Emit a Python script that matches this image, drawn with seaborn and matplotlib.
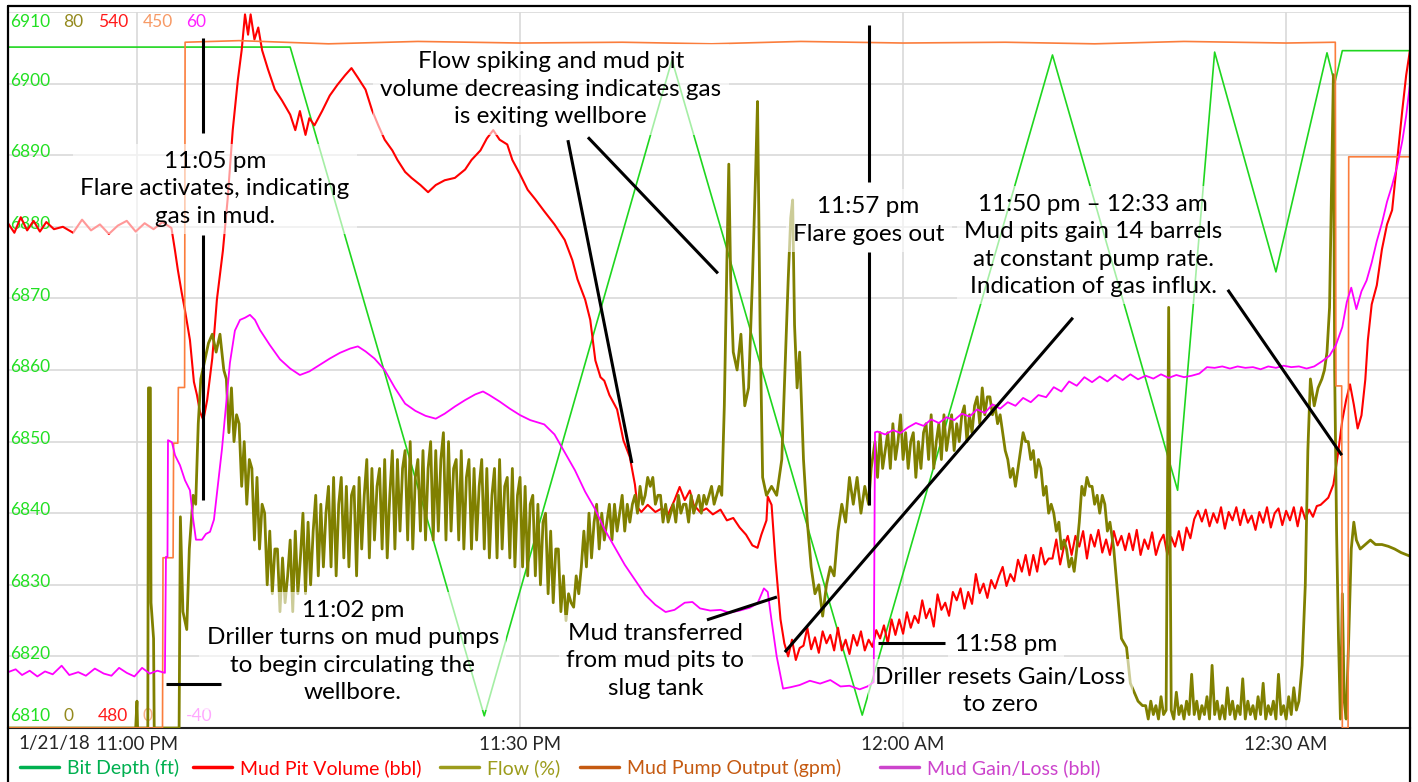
import numpy as np
import pandas as pd
import matplotlib.pyplot as plt
import seaborn as sns
from matplotlib.lines import Line2D

sns.set_style("white")
plt.rcParams['font.family'] = ['Lato', 'DejaVu Sans']

# ---- data (time in minutes after 11:00 PM, 1/21/18) ----
bit_t = [-10.1, 12.0, 27.2, 41.9, 56.8, 71.7, 81.5, 84.4, 89.2, 93.2, 93.8, 94.4, 99.7]
bit_v = [6905.1, 6905.1, 6811.7, 6903.3, 6811.8, 6904.0, 6843.2, 6904.4, 6873.7,
         6904.3, 6900.0, 6904.6, 6904.6]

pump_t = [-10.1, 2.0, 2.04, 2.83, 2.87, 3.2, 3.24, 3.73, 3.77, 8, 15, 22, 30, 38, 45,
          52, 60, 68, 75, 82, 90, 93.85, 93.9, 94.35, 94.4, 94.85, 94.9, 99.7]
pump_v = [0, 0, 107, 107, 179, 179, 214, 214, 431, 432, 430, 431.5, 430.5, 431, 430,
          431.5, 430.5, 431, 430, 431.5, 430.5, 431, 215, 215, 0, 0, 359, 359]

# mud pit volume: explicit points, then a noisy stretch every 0.3 min, then the final rise
pit_t_a = [-10.1, -9.6, -9.1, -8.6, -8.1, -7.6, -7.1, -6.5, -5.8, -5.0, -4.3, -3.6, -2.9,
           -2.2, -1.5, -0.8, -0.1, 0.6, 1.3, 2.0, 2.7,
           2.98, 3.2, 3.5, 3.76, 4.15, 4.46, 4.7, 4.93, 5.2, 5.5, 5.9, 6.26, 6.73, 7.1,
           7.5, 7.9, 8.2, 8.46, 8.7, 8.9, 9.2, 9.5, 9.8, 10.26, 10.8, 11.35, 12.0, 12.4,
           12.76, 13.2, 13.5, 13.9, 14.5, 15.1, 15.7, 16.3, 16.8, 17.3, 17.9, 18.4, 18.9,
           19.4, 20.0, 20.4, 21.0, 21.5, 22.2, 22.8, 23.4, 24.1, 24.9, 25.7, 26.2, 26.9,
           27.4, 27.9, 28.4, 29.0, 29.4, 30.0, 30.6, 31.2, 31.9, 32.7, 33.5, 34.1, 34.5,
           35.1, 35.5, 35.9, 36.3, 36.6, 37.0, 37.6, 38.1, 38.6, 39.0, 39.2, 39.5, 40.0,
           40.6, 41.1, 41.6, 42.1, 42.5, 42.9, 43.3, 43.6, 44.1, 44.6, 45.1, 45.7, 46.2,
           46.7, 47.2, 47.7, 48.2, 48.6, 48.9, 49.3, 49.4, 49.7, 50.0, 50.4]
pit_a = [522.3, 521.5, 522.8, 521.7, 522.5, 521.6, 522.4, 521.8, 522.0, 521.5, 522.6,
         521.7, 522.2, 521.4, 522.1, 522.5, 521.6, 522.3, 521.8, 522.4, 521.9,
         520.0, 518.4, 516.5, 515.0, 512.5, 509.0, 507.9, 506.5, 505.8, 507.5, 511.0,
         515.9, 520.0, 524.3, 530.1, 534.3, 536.8, 539.8, 538.1, 539.8, 537.7, 538.7,
         536.8, 535.2, 533.5, 532.6, 531.4, 530.1, 531.7, 529.7, 531.1, 530.5, 531.7,
         533.0, 533.9, 534.7, 535.3, 534.5, 533.5, 531.8, 530.5, 529.3, 528.4, 527.6,
         526.6, 526.1, 525.5, 524.9, 525.5, 525.9, 526.1, 526.8, 527.6, 528.4, 529.4,
         530.1, 529.3, 528.9, 527.6, 526.4, 525.1, 524.3, 523.3, 522.2, 520.9, 519.2,
         517.6, 515.9, 514.2, 510.8, 509.4, 509.1, 507.9, 506.7, 504.1, 502.7, 500.4,
         498.5, 498.1, 498.7, 498.1, 498.4, 497.9, 499.1, 500.2, 499.1, 499.9, 498.7,
         498.1, 498.4, 497.9, 498.3, 497.4, 497.6, 496.8, 496.2, 495.3, 495.1, 496.2,
         497.4, 499.4, 498.7, 494.1, 489.1]
pit_band = [487.1, 486.0, 487.4, 485.7, 486.7, 486.9, 488.4, 486.6, 487.6, 486.3,
            488.1, 487.1, 487.8, 486.5, 488.4, 486.5, 487.4, 486.2, 487.8, 486.9,
            488.1, 486.5, 487.4, 486.8, 488.2, 487.5, 488.6, 487.1, 489.1, 487.8,
            489.1, 487.9, 489.7, 488.4, 489.4, 488.8, 490.7, 489.2, 490.0, 488.5,
            491.2, 489.9, 490.5, 489.4, 491.4, 490.7, 491.7, 490.0, 491.4, 490.4,
            492.9, 491.3, 492.1, 490.9, 492.4, 491.7, 492.7, 493.5, 491.9, 492.9,
            492.3, 494.1, 493.1, 494.5, 492.8, 494.5, 493.1, 495.1, 493.7, 494.2,
            494.2, 495.8, 493.7, 495.2, 496.1, 494.5, 496.1, 495.2, 496.5, 494.2,
            496.2, 495.2, 496.6, 494.7, 495.8, 494.5, 496.5, 495.3, 496.1, 494.9,
            496.3, 494.9, 496.6, 494.5, 495.8, 495.0, 496.4, 494.5, 495.6, 496.2,
            494.5, 496.0, 495.2, 496.5, 494.9, 496.8, 495.9, 497.5, 498.2, 497.3,
            498.3, 496.9, 498.0, 497.2, 498.5, 496.7, 498.1, 497.4, 498.5, 497.0,
            498.3, 497.2, 497.8, 496.6, 498.1, 497.2, 498.5, 496.8, 498.0, 498.4,
            497.0, 498.2, 497.4, 498.5, 496.9, 498.5, 497.5, 498.3, 497.7, 498.6]
pit_t_b = [92.7, 93.3, 93.7, 94.05, 94.4, 94.7, 95.0, 95.3, 95.6, 95.9, 96.2, 96.4,
           96.7, 97.1, 97.5, 97.9, 98.3, 98.7, 99.1, 99.4, 99.7]
pit_b = [498.7, 499.3, 500.4, 502.9, 505.8, 507.5, 508.8, 507.1, 505.1, 506.2, 509.2,
         512.5, 515.5, 517.1, 520.1, 522.2, 523.4, 527.6, 531.8, 534.7, 536.8]

# mud gain/loss
gl_t_a = [-10.1, -9.5, -9.0, -8.4, -7.8, -7.2, -6.6, -5.9, -5.3, -4.6, -4.0, -3.3, -2.6,
          -2.0, -1.4, -0.8, -0.2, 0.4, 1.0, 1.6, 2.19, 2.27, 2.39, 2.43, 2.74, 2.98, 3.37,
          3.76, 4.15, 4.39, 4.62, 5.09, 5.4, 5.72, 6.03, 6.34, 6.66, 6.97, 7.28, 7.67,
          8.07, 8.46, 8.85, 9.24, 9.63, 10.4, 11.2, 12.0, 12.76, 13.5, 14.3, 15.1, 15.9,
          16.7, 17.3, 17.9, 18.6, 19.4, 20.2, 21.0, 21.8, 22.6, 23.4, 24.1, 24.9, 25.7,
          26.5, 27.1, 27.6, 28.4, 29.2, 30.0, 30.8, 31.9, 32.7, 33.5, 34.3, 35.1, 35.9,
          36.6, 37.4, 38.2, 39.0, 39.8, 40.6, 41.4, 42.1, 42.9, 43.5, 44.1, 44.9, 45.7,
          46.4, 47.2, 48.0, 48.6, 49.1, 49.4, 49.7, 50.1, 50.6, 51.2, 51.9, 52.7, 53.5,
          54.3, 55.1, 55.8, 56.6, 57.2, 57.7, 57.8]
gl_a = [-32.2, -31.8, -32.6, -32.0, -32.8, -32.1, -32.5, -31.3, -32.6, -32.2, -32.7,
        -31.7, -32.4, -32.7, -31.6, -32.3, -32.8, -31.6, -32.4, -32.0, -32.3, -16.1,
        -16.1, 0.2, -0.1, -1.9, -3.3, -5.4, -6.8, -10.7, -13.7, -13.7, -12.9, -12.6,
        -10.9, -6.0, -1.0, 5.0, 11.0, 15.5, 17.0, 17.3, 17.7, 17.0, 15.6, 13.5, 11.5,
        10.2, 9.3, 9.8, 10.7, 11.6, 12.4, 13.0, 13.3, 12.6, 11.6, 10.0, 7.5, 5.3, 4.3,
        3.6, 3.2, 3.9, 4.9, 5.8, 6.6, 7.0, 6.5, 5.6, 4.6, 3.7, 3.0, 2.4, 1.0, -1.5,
        -4.0, -7.0, -9.5, -12.2, -14.7, -17.2, -19.3, -21.4, -22.8, -23.8, -23.5,
        -22.5, -22.4, -23.3, -23.6, -23.5, -23.9, -23.6, -23.2, -22.6, -20.5, -21.0,
        -25.0, -30.0, -34.5, -34.3, -34.0, -33.4, -33.8, -33.3, -34.2, -34.1, -34.6,
        -34.2, -33.6, 1.3]
gl_band = [1.4, 1.0, 1.6, 1.2, 2.0, 2.6, 2.2, 3.1, 2.6, 3.4, 3.0, 3.9, 3.5, 4.5, 4.0,
           5.2, 4.6, 5.5, 5.0, 6.1, 5.5, 6.5, 6.2, 7.6, 7.0, 8.4, 7.8, 9.0, 8.3, 9.1,
           8.4, 9.3, 8.6, 9.4, 8.7, 9.2, 8.8, 9.4, 8.9, 9.3, 9.0, 9.2, 9.5, 10.4, 10.3,
           10.5, 10.2, 10.5, 10.3, 10.4, 10.1, 10.5, 10.3, 10.6, 10.4, 10.5, 10.2, 10.5,
           11.2]
gl_t_b = [93.4, 93.9, 94.4, 94.75, 95.1, 95.5, 95.9, 96.3, 96.7, 97.1, 97.5, 97.9, 98.3,
          98.7, 99.1, 99.4, 99.7]
gl_b = [12.0, 13.5, 16.0, 19.5, 21.5, 18.5, 21.0, 22.5, 25.0, 28.0, 30.5, 33.5, 35.8,
        38.5, 42.0, 45.5, 50.0]

# flow: sparse parts as (t, v) lists, noisy parts sampled every 0.2 min
flow_t_a = [-10.1, -0.1, 0.0, 0.05, 0.85, 0.9, 1.05, 1.1, 1.3, 1.35, 3.3, 3.4, 3.6,
            3.9, 4.1, 4.4, 4.6, 4.8, 5.0, 5.3, 5.6, 5.9, 6.2, 6.5, 6.8]
flow_a = [0, 0, 3, 0, 0, 38, 38, 14, 10, 0, 0, 23.6, 13, 11, 20, 26, 25, 34, 39, 41,
          43, 44, 42, 44, 40]
flow_band1 = [39, 33, 38, 32, 35, 34, 27, 32, 25, 30, 29, 21, 28, 20, 25,
              24, 16, 22, 15, 20, 20, 13, 19, 14, 17, 21, 13, 22, 15, 19,
              24, 15, 23, 16, 22, 26, 17, 25, 18, 24, 27, 18, 28, 17, 25,
              28, 19, 27, 18, 26, 27, 17, 28, 20, 26, 30, 19, 29, 21, 27,
              29, 20, 30, 19, 26, 31, 20, 30, 22, 29, 31, 21, 32, 20, 28,
              30, 22, 31, 21, 29, 32, 21, 31, 22, 30, 33, 21, 32, 22, 29,
              30, 21, 31, 20, 28, 30, 20, 29, 21, 27, 30, 20, 29, 19, 26,
              29, 19, 30, 20, 27, 28, 19, 29, 18, 26, 28, 18, 27, 17, 25,
              26, 17, 25, 16, 23, 24, 15, 22, 14, 20, 20, 13, 17, 12, 15,
              14, 13.5, 17, 15, 18, 22, 18, 24, 19, 23, 25, 20, 24, 21, 23,
              25, 21, 25, 22, 24, 26, 22, 25, 23, 25, 26, 24, 27, 25, 26,
              28, 27, 28, 25, 26, 26, 23, 25, 23, 24, 25, 23, 26, 24, 25,
              25, 23, 26, 24, 25, 26, 24, 26, 25, 26, 27, 25, 26, 27, 26]
flow_t_b = [46.0, 46.2, 46.35, 46.5, 46.7, 47.0, 47.3, 47.6, 47.9, 48.2, 48.45, 48.6,
            48.8, 49.0, 49.3, 49.7, 50.1, 50.5, 50.8, 51.0, 51.2, 51.35, 51.5, 51.7,
            51.9, 52.2, 52.5, 52.8, 53.1, 53.4, 53.7, 54.0, 54.3, 54.6, 54.9, 55.2,
            55.5, 55.8, 56.1, 56.4, 56.7, 57.0, 57.3, 57.5]
flow_b = [36, 52, 63, 50, 42, 40, 44, 36, 38, 50, 62, 70, 45, 28, 26, 27, 26, 30, 42,
          50, 57, 59, 45, 38, 42, 30, 23, 18, 15, 16, 12.5, 16, 18, 17, 22, 25, 23, 28,
          25, 28, 24, 27, 25, 29]
flow_band2 = [32, 28, 33, 29, 31, 33, 29, 34, 30, 32, 35, 30, 33, 29, 32,
              33, 28, 32, 29, 33, 34, 30, 35, 29, 32, 34, 30, 35, 31, 33,
              35, 31, 34, 32, 35, 36, 32, 35, 33, 36, 37, 34, 38, 35, 37,
              37, 35, 36, 34, 35, 33, 31, 30, 28, 29, 27, 29, 31, 33, 32,
              32, 30, 31, 28, 30, 29, 26, 27, 24, 25, 24, 22, 23, 20, 21,
              20, 18, 19, 17.5, 20, 23, 27, 26, 28, 27, 27, 25, 26, 24, 26,
              25, 22, 23]
flow_t_c = [76.5, 76.8, 77.1, 77.5, 77.8, 78.1, 78.4, 78.75]
flow_c = [20, 15, 10, 9, 5, 4, 3, 2.5]
flow_band3 = [2.5, 1, 3, 1.5, 2.5, 1, 3.5, 1.5, 2, 47, 2, 1, 4, 1.5, 2.5,
              1, 3, 1.5, 6, 1.5, 3, 1, 2.5, 1.5, 3.5, 1, 7, 1.5, 3, 1,
              2.5, 1, 4.5, 1.5, 3, 1, 2.5, 1.5, 5.5, 1, 3, 1.5, 2.5, 1, 3.5,
              1.5, 5, 1, 2.5, 1.5, 3, 1, 6, 1.5, 2.5, 1, 3.5, 1.5, 4.5, 2, 3]
flow_t_d = [91.25, 91.5, 91.7, 91.9, 92.2, 92.5, 92.8, 93.0, 93.2, 93.4, 93.55, 93.7,
            93.8, 93.95, 94.1, 94.25, 94.4, 94.55, 94.7, 94.9, 95.1, 95.3, 95.5, 95.8,
            96.2, 96.6, 97.0, 97.5, 98.0, 98.5, 99.0, 99.7]
flow_d = [7, 16, 31, 39, 36, 38, 39, 40, 42, 47, 60, 73, 40, 22, 10, 1, 15, 3, 1, 10,
          20, 23, 21, 20, 20.5, 21, 20.5, 20.5, 20.3, 20, 19.6, 19.2]

time_ticks = [0, 30, 60, 90]
time_labels = ["11:00 PM", "11:30 PM", "12:00 AM", "12:30 AM"]
depth_ticks = [6820, 6830, 6840, 6850, 6860, 6870, 6880, 6890, 6900]
top_labels = ["6910", "80", "540", "450", "60"]
bottom_labels = ["6810", "0", "480", "0", "-40"]

series_names = ["Bit Depth (ft)", "Mud Pit Volume (bbl)", "Flow (%)",
                "Mud Pump Output (gpm)", "Mud Gain/Loss (bbl)"]

notes = ["11:05 pm\nFlare activates, indicating\ngas in mud.",
         "Flow spiking and mud pit\nvolume decreasing indicates gas\nis exiting wellbore",
         "11:57 pm\nFlare goes out",
         "11:50 pm \u2013 12:33 am\nMud pits gain 14 barrels\nat constant pump rate.\nIndication of gas influx.",
         "11:02 pm\nDriller turns on mud pumps\nto begin circulating the\nwellbore.",
         "Mud transferred\nfrom mud pits to\nslug tank",
         "11:58 pm",
         "Driller resets Gain/Loss\nto zero"]

# ---- assemble series ----
def on_grid(start, vals, step):
    return start + step * np.arange(len(vals))

flow_t = np.concatenate([flow_t_a, on_grid(7.0, flow_band1, 0.2), flow_t_b,
                         on_grid(57.8, flow_band2, 0.2), flow_t_c,
                         on_grid(79.0, flow_band3, 0.2), flow_t_d])
flow_v = np.concatenate([flow_a, flow_band1, flow_b, flow_band2, flow_c, flow_band3, flow_d])
pit_t = np.concatenate([pit_t_a, on_grid(50.7, pit_band, 0.3), pit_t_b])
pit_v = np.concatenate([pit_a, pit_band, pit_b])
gl_t = np.concatenate([gl_t_a, on_grid(58.0, gl_band, 0.6), gl_t_b])
gl_v = np.concatenate([gl_a, gl_band, gl_b])

bit = pd.DataFrame({"t": bit_t, "v": bit_v})
pit = pd.DataFrame({"t": pit_t, "v": pit_v})
flow = pd.DataFrame({"t": flow_t, "v": flow_v})
pump = pd.DataFrame({"t": pump_t, "v": pump_v})
gl = pd.DataFrame({"t": gl_t, "v": gl_v})

# ---- figure ----
W, H = 1418, 782
fig = plt.figure(figsize=(W / 100, H / 100), dpi=100)
pos = [8 / W, 1 - 728 / H, (1410 - 8) / W, (728 - 12) / H]
ax = fig.add_axes(pos)
xlim = (-10.1, 99.7)

line_col = ["#1fd61f", "#ff0000", "#808000", "#fb7d3c", "#ff00ff"]
legend_col = ["#00b050", "#ff0000", "#9c9c1c", "#c55a11", "#cc44cc"]
ylims = [(6810, 6910), (480, 540), (0, 80), (0, 450), (-40, 60)]
widths = [1.2, 1.5, 2.0, 1.2, 1.3]

axes = [ax] + [ax.twinx() for _ in range(4)]
for a, df, c, lim, lw in zip(axes, [bit, pit, flow, pump, gl], line_col, ylims, widths):
    sns.lineplot(data=df, x="t", y="v", ax=a, color=c, lw=lw, estimator=None,
                 sort=False, legend=False)
    a.set_xlim(*xlim)
    a.set_ylim(*lim)
    if a is not ax:
        a.axis("off")

ax.set_xlabel(""); ax.set_ylabel("")
ax.set_xticks(time_ticks)
ax.set_xticklabels(time_labels, fontsize=13.5)
ax.set_yticks([6810] + depth_ticks + [6910])
ax.set_yticklabels([])
ax.tick_params(axis="both", length=0)
ax.tick_params(axis="x", pad=6)
ax.grid(True, color="#d9d9d9", lw=1.2)
ax.set_axisbelow(True)
for s in ["top", "right", "left"]:
    ax.spines[s].set_visible(False)
ax.spines["bottom"].set_color("#222222")
ax.spines["bottom"].set_linewidth(1.5)

# value labels drawn inside the plot
for d in depth_ticks:
    ax.text(-9.95, d + 0.4, str(d), color="#22e022", fontsize=12.5, va="center",
            ha="left", zorder=1)
label_x = [-9.95, -5.79, -3.05, 0.47, 3.84]
top_col = ["#22e022", "#948a1e", "#ff1a1a", "#f79a66", "#ff22ff"]
bot_col = ["#22e022", "#948a1e", "#ff1a1a", "#f8b08c", "#ffa8ff"]
for x, s, c in zip(label_x, top_labels, top_col):
    ax.text(x, 6908.6, s, color=c, fontsize=12.5, va="center", ha="left", zorder=1)
for x, s, c in zip(label_x, bottom_labels, bot_col):
    ax.text(x, 6811.7, s, color=c, fontsize=12.5, va="center", ha="left", zorder=1)

# overlay for callouts
ov = fig.add_axes(pos)
ov.set_xlim(*xlim)
ov.set_ylim(6810, 6910)
ov.axis("off")

note_pos = [(6.1, 6885.3, "center"), (32.4, 6899.2, "center"), (57.3, 6880.9, "center"),
            (74.9, 6877.4, "center"), (16.9, 6820.7, "center"), (40.6, 6819.4, "center"),
            (64.05, 6821.7, "left"), (67.6, 6815.2, "center")]
for (x, y, ha), s in zip(note_pos, notes):
    ov.text(x, y, s, ha=ha, va="center", multialignment="center", fontsize=17.5,
            linespacing=1.38, color="black", zorder=3,
            bbox=dict(boxstyle="square,pad=0.3", fc="white", ec="none", alpha=0.6))

callouts = [((5.17, 5.17), (6906.4, 6893.1)), ((5.17, 5.17), (6878.9, 6841.8)),
            ((33.75, 38.76), (6892.1, 6847.0)), ((35.32, 45.50), (6892.5, 6873.5)),
            ((57.32, 57.32), (6908.2, 6886.3)), ((57.32, 57.32), (6876.5, 6841.1)),
            ((44.64, 50.12), (6825.1, 6828.3)), ((50.74, 73.3), (6820.6, 6867.3)),
            ((85.43, 94.36), (6871.2, 6848.1)), ((2.27, 6.58), (6816.1, 6816.1)),
            ((58.03, 63.27), (6821.9, 6821.9))]
for xs, ys in callouts:
    ov.plot(xs, ys, color="black", lw=2.2, solid_capstyle="butt", zorder=4)

fig.text(18 / W, 1 - 744 / H, "1/21/18", fontsize=13.5, va="center", ha="left")

# legend entries, one per series along the bottom
legend_x = [20, 193, 440, 580, 880]
for x, c, name in zip(legend_x, legend_col, series_names):
    fig.legend([Line2D([0], [0], color=c, lw=2.5)], [name], loc="center left",
               bbox_to_anchor=(x / W, 1 - 768 / H), frameon=False, fontsize=14,
               handlelength=2.0, handletextpad=0.4, borderpad=0, borderaxespad=0,
               labelcolor="linecolor")

# chart border
for xs, ys in [((8 / W, 8 / W), (0, 1 - 6 / H)), ((8 / W, 1410 / W), (1 - 6 / H, 1 - 6 / H)),
               ((1410 / W, 1410 / W), (0, 1 - 6 / H))]:
    fig.add_artist(Line2D(xs, ys, color="black", lw=1.6))

fig.savefig("out.png", dpi=100)
